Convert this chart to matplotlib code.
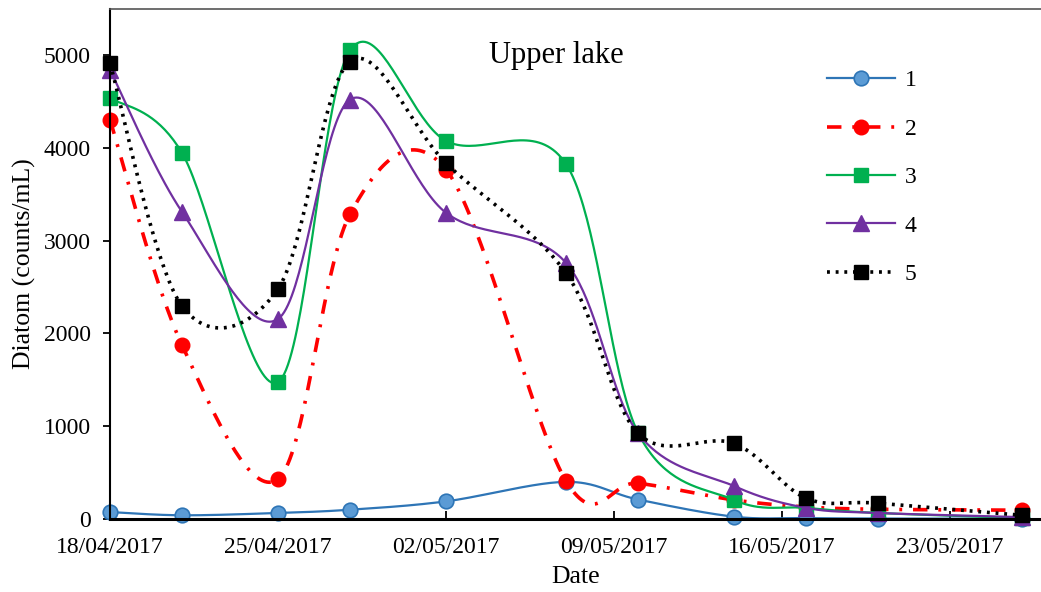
import datetime as dt
import numpy as np
import matplotlib
matplotlib.use("Agg")
import matplotlib.pyplot as plt
import matplotlib.dates as mdates

plt.rcParams["font.family"] = ["Liberation Serif", "DejaVu Serif"]

dates = ["18/04/2017", "21/04/2017", "25/04/2017", "28/04/2017", "02/05/2017", "07/05/2017",
         "10/05/2017", "14/05/2017", "17/05/2017", "20/05/2017", "26/05/2017"]
s1 = [75, 40, 65, 100, 190, 400, 210, 25, 10, 5, 3]
s2 = [4300, 1875, 430, 3285, 3765, 410, 385, 205, 130, 105, 95]
s3 = [4540, 3945, 1475, 5050, 4075, 3825, 930, 205, 120, 65, 10]
s4 = [4840, 3310, 2155, 4520, 3300, 2760, 925, 355, 120, 65, 20]
s5 = [4910, 2295, 2480, 4930, 3835, 2650, 925, 815, 225, 170, 40]
series_names = ["1", "2", "3", "4", "5"]
tick_dates = ["18/04/2017", "25/04/2017", "02/05/2017", "09/05/2017", "16/05/2017", "23/05/2017"]


def to_num(lst):
    return mdates.date2num([dt.datetime.strptime(d, "%d/%m/%Y") for d in lst])


def smooth(x, y, n=40):
    # Excel-like bezier smoothing through the data points
    x = np.asarray(x, float)
    y = np.asarray(y, float)
    px = np.concatenate([[x[0]], x, [x[-1]]])
    py = np.concatenate([[y[0]], y, [y[-1]]])
    t = np.linspace(0, 1, n, endpoint=False)
    xs, ys = [], []
    for i in range(len(x) - 1):
        p0x, p1x, p2x, p3x = px[i], px[i + 1], px[i + 2], px[i + 3]
        p0y, p1y, p2y, p3y = py[i], py[i + 1], py[i + 2], py[i + 3]
        c1x, c1y = p1x + (p2x - p0x) / 6, p1y + (p2y - p0y) / 6
        c2x, c2y = p2x - (p3x - p1x) / 6, p2y - (p3y - p1y) / 6
        b = [(1 - t) ** 3, 3 * (1 - t) ** 2 * t, 3 * (1 - t) * t ** 2, t ** 3]
        xs.extend(b[0] * p1x + b[1] * c1x + b[2] * c2x + b[3] * p2x)
        ys.extend(b[0] * p1y + b[1] * c1y + b[2] * c2y + b[3] * p2y)
    xs.append(x[-1])
    ys.append(y[-1])
    marks = list(range(0, len(xs), n))
    return np.array(xs), np.array(ys), marks


xd = to_num(dates)

styles = [
    dict(color="#2E75B6", lw=1.6, ls="-", marker="o", ms=10.5, mfc="#5B9BD5", mec="#2E75B6", mew=1.2),
    dict(color="#FF0000", lw=2.6, ls=(0, (4, 3, 0.8, 3)), marker="o", ms=10.5, mfc="#FF0000", mec="#FF0000", mew=1),
    dict(color="#00B050", lw=1.6, ls="-", marker="s", ms=10, mfc="#00B050", mec="#00B050", mew=1),
    dict(color="#7030A0", lw=1.6, ls="-", marker="^", ms=11, mfc="#7030A0", mec="#7030A0", mew=1),
    dict(color="#000000", lw=2.6, ls=(0, (0.8, 1.6)), marker="s", ms=10, mfc="#000000", mec="#000000", mew=1),
]

fig = plt.figure(figsize=(10.41, 5.92), dpi=100)
ax = fig.add_axes([110 / 1041, 1 - 519 / 592, 1 - 110 / 1041, (519 - 9) / 592])

for vals, name, st in zip([s1, s2, s3, s4, s5], series_names, styles):
    xs, ys, marks = smooth(xd, vals)
    ax.plot(xs, ys, color=st["color"], lw=st["lw"], linestyle=st["ls"], marker=st["marker"],
            markersize=st["ms"], markerfacecolor=st["mfc"], markeredgecolor=st["mec"],
            markeredgewidth=st["mew"], markevery=marks, label=name, clip_on=False)

x0 = to_num(["18/04/2017"])[0]
ax.set_xlim(x0, x0 + (1041 - 110) / 24.0)
ax.set_ylim(0, 5496)
ax.set_yticks([0, 1000, 2000, 3000, 4000, 5000])
ax.set_xticks(to_num(tick_dates))
ax.xaxis.set_major_formatter(mdates.DateFormatter("%d/%m/%Y"))
ax.tick_params(axis="x", direction="in", length=6, width=1.3, labelsize=17, pad=13)
ax.tick_params(axis="y", direction="out", length=5, width=1.3, labelsize=17, pad=9)

ax.spines["right"].set_visible(False)
ax.spines["top"].set_color("#555555")
ax.spines["top"].set_linewidth(1.2)
ax.spines["left"].set_linewidth(1.5)
ax.spines["bottom"].set_linewidth(2.2)

ax.set_xlabel("Date", fontsize=18.5, labelpad=6)
ax.set_ylabel("Diatom (counts/mL)", fontsize=18.5, labelpad=5)
ax.text(x0 + (556 - 110) / 24.0, 5000, "Upper lake", fontsize=22, ha="center", va="center")

ax.legend(loc="upper left", bbox_to_anchor=(815 / 1041, 1 - 58 / 592), bbox_transform=fig.transFigure,
          frameon=False, fontsize=17, handlelength=2.9, labelspacing=1.14, handletextpad=0.4,
          borderpad=0)

fig.savefig("out.png", dpi=100)
